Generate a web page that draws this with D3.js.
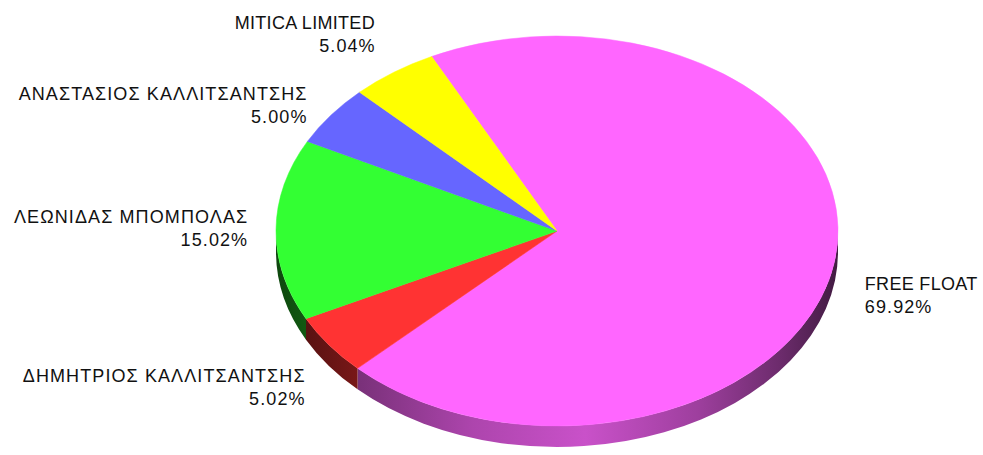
<!DOCTYPE html>
<html>
<head>
<meta charset="utf-8">
<script src="https://cdn.jsdelivr.net/npm/d3@7"></script>
<style>
  html, body { margin: 0; padding: 0; background: #fff; }
  svg { display: block; }
  text { font-family: "Liberation Sans", Arial, sans-serif; font-size: 18px; fill: #111; }
</style>
</head>
<body>
<svg id="chart" width="983" height="455"></svg>
<script>
// Shareholders, in drawing order (clockwise from the start angle)
const holders = ["FREE FLOAT", "ΔΗΜΗΤΡΙΟΣ ΚΑΛΛΙΤΣΑΝΤΣΗΣ", "ΛΕΩΝΙΔΑΣ ΜΠΟΜΠΟΛΑΣ", "ΑΝΑΣΤΑΣΙΟΣ ΚΑΛΛΙΤΣΑΝΤΣΗΣ", "MITICA LIMITED"];
const shares = [69.92, 5.02, 15.02, 5.00, 5.04];
const sliceColors = ["#ff66ff", "#ff3333", "#33ff33", "#6666ff", "#ffff00"];

// Layout of the tilted pie
const cx = 557, cy = 231, rx = 281, ry = 195, depth = 21;
const startDeg = -26.5;
// Vertical label adjustments (keeps the stacked labels clear of each other)
const labelShift = [30, 33, -1, 0, -24];

const svg = d3.select("#chart");
const rad = d => d * Math.PI / 180;

const pie = d3.pie().sort(null).value(d => d.value)
  .startAngle(rad(startDeg)).endAngle(rad(startDeg + 360));
const data = holders.map((name, i) => ({ name, value: shares[i], color: sliceColors[i] }));
const arcs = pie(data);

const pt = (a, dy = 0) => [cx + rx * Math.sin(a), cy - ry * Math.cos(a) + dy];

// Side-wall shading: darker towards the rim edges, brightest just right of centre
const shade = [[0, 0.28], [0.15, 0.48], [0.35, 0.68], [0.55, 0.79], [0.75, 0.62], [0.9, 0.42], [1, 0.26]];
const defs = svg.append("defs");
arcs.forEach((d, i) => {
  const g = defs.append("linearGradient")
    .attr("id", "side" + i)
    .attr("gradientUnits", "userSpaceOnUse")
    .attr("x1", cx - rx).attr("x2", cx + rx).attr("y1", 0).attr("y2", 0);
  const c = d3.rgb(d.data.color);
  shade.forEach(([o, f]) => {
    g.append("stop").attr("offset", o)
      .attr("stop-color", d3.rgb(c.r * f, c.g * f, c.b * f).formatHex());
  });
});

// Front side walls (only the lower half of the rim is visible)
const sides = svg.append("g");
arcs.forEach((d, i) => {
  const s0 = Math.max(d.startAngle, Math.PI / 2);
  const s1 = Math.min(d.endAngle, Math.PI * 1.5);
  if (s1 <= s0) return;
  const a = pt(s0), b = pt(s1), bd = pt(s1, depth), ad = pt(s0, depth);
  const p = `M${a}A${rx},${ry} 0 0 1 ${b}L${bd}A${rx},${ry} 0 0 0 ${ad}Z`;
  sides.append("path").attr("d", p).attr("fill", `url(#side${i})`);
});

// Top faces
const tops = svg.append("g");
arcs.forEach(d => {
  const a = pt(d.startAngle), b = pt(d.endAngle);
  const large = d.endAngle - d.startAngle > Math.PI ? 1 : 0;
  const p = `M${cx},${cy}L${a}A${rx},${ry} 0 ${large} 1 ${b}Z`;
  tops.append("path").attr("d", p).attr("fill", d.data.color)
    .attr("stroke", d.data.color).attr("stroke-width", 0.5);
});

// Greek capitals and figures are set with wider tracking than Latin capitals
const tracking = s => /[\u0370-\u03ff0-9]/.test(s) ? 1.1 : 0.3;

// Labels: name and percentage, set just outside the rim
const fmt = d3.format(".2f");
const labels = svg.append("g");
arcs.forEach((d, i) => {
  const mid = (d.startAngle + d.endAngle) / 2;
  const right = Math.sin(mid) > 0;
  const x = cx + Math.sin(mid) * rx * 1.085 + (right ? 7 : -5);
  const centre = cy - Math.cos(mid) * ry * 1.085 + labelShift[i];
  const b1 = centre - 5.5;
  const lines = [d.data.name, fmt(d.data.value) + "%"];
  const t = labels.append("text").attr("text-anchor", right ? "start" : "end");
  lines.forEach((s, k) => {
    const ls = tracking(s);
    t.append("tspan")
      .attr("x", right ? x : x + ls)
      .attr("y", b1 + 23 * k)
      .attr("letter-spacing", ls)
      .text(s);
  });
});
</script>
</body>
</html>
